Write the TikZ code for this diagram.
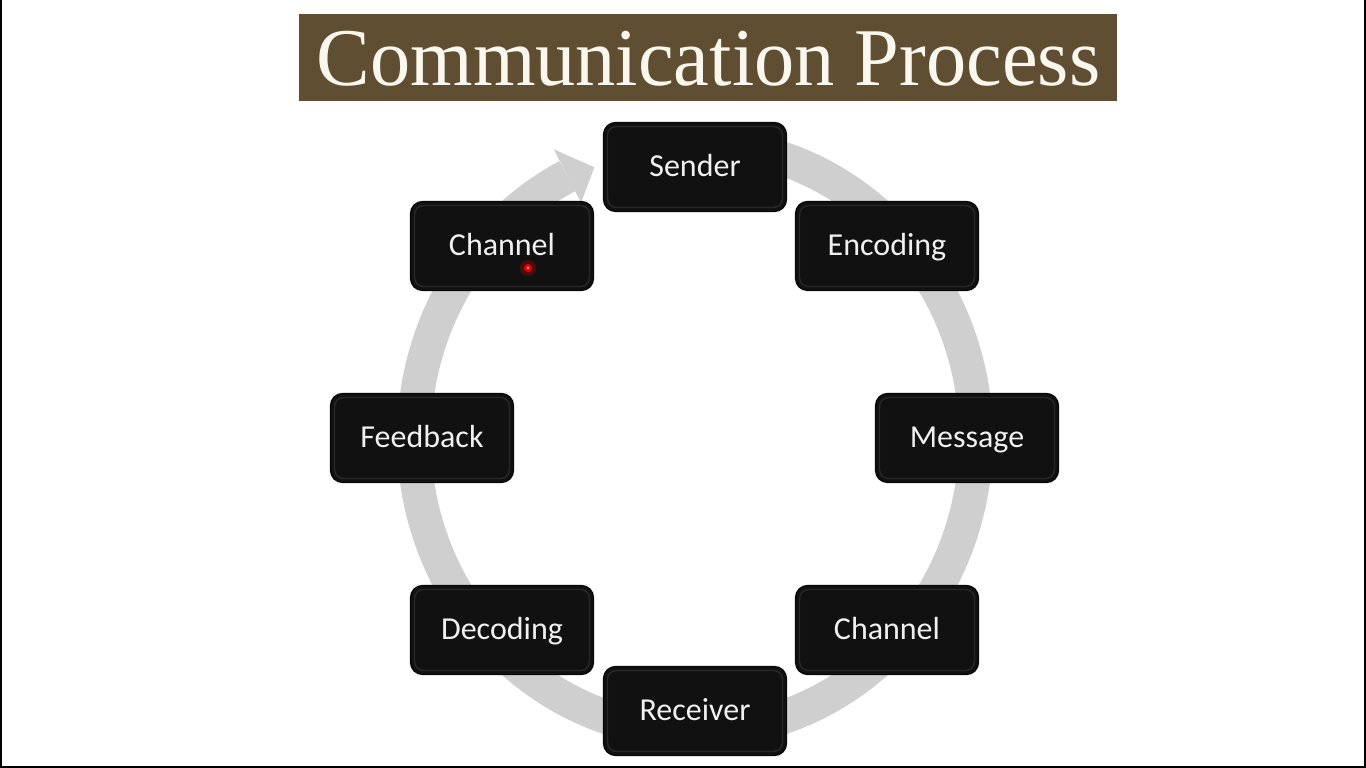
\documentclass[tikz,border=0pt]{standalone}
\usepackage{fontspec}
\usepackage{graphicx}
\usetikzlibrary{calc}
\setmainfont{Carlito}
\newfontfamily\titlefont{Liberation Serif}

\definecolor{titlebrown}{RGB}{96,78,50}
\definecolor{titleink}{RGB}{250,247,238}
\definecolor{boxfill}{RGB}{17,17,17}
\definecolor{boxedge}{RGB}{8,8,8}
\definecolor{boxsheen}{RGB}{95,95,95}
\definecolor{boxtext}{RGB}{240,240,240}
\definecolor{ringgray}{RGB}{207,207,207}

\begin{document}
\begin{tikzpicture}[x=1pt,y=1pt,
  stepbox/.style={rectangle, rounded corners=12pt,
    minimum width=183pt, minimum height=89pt, inner sep=0pt,
    fill=boxfill, draw=boxedge, line width=1.2pt,
    text=boxtext, font=\fontsize{32}{38}\selectfont,
    text height=25pt, text depth=6pt,
    path picture={
      \draw[boxsheen, opacity=0.3, line width=1.4pt, rounded corners=9pt]
        ([shift={(4pt,4pt)}]path picture bounding box.south west) rectangle
        ([shift={(-4pt,-4pt)}]path picture bounding box.north east);}},
  ringband/.style={draw=ringgray, line width=34pt},
  ringhead/.style={fill=ringgray},
]
% page frame
\useasboundingbox (0,0) rectangle (1366,768);
\fill[white] (0,0) rectangle (1366,768);
\fill[black] (0,0) rectangle (1.5,768);
\fill[black] (1364,0) rectangle (1366,768);
\fill[black] (0,0) rectangle (1366,2);

% title banner
\fill[titlebrown] (299,667) rectangle (1117,754);
\node[anchor=base, text=titleink, inner sep=0pt] (title) at (708.5,682)
  {\scalebox{0.98}[1]{\titlefont\fontsize{82}{90}\selectfont Communication Process}};

% circular arrow behind the boxes
\coordinate (hub) at (695,330);
\draw[ringband] (hub) ++(80:281 and 294)
  arc[start angle=80, end angle=-243, x radius=281, y radius=294];
\fill[ringhead] ($(hub)+(117:311 and 324)$) coordinate (barbout)
  -- ($(hub)+(111:281 and 290)$) coordinate (tip)
  -- ($(hub)+(117:251 and 264)$) coordinate (barbin) -- cycle;

% the eight stages
\node[stepbox] (sender)   at (695,601) {Sender};
\node[stepbox] (encoding) at (887,522) {Encoding};
\node[stepbox] (message)  at (967,330) {Message};
\node[stepbox] (channelA) at (887,138) {Channel};
\node[stepbox] (receiver) at (695,57)  {Receiver};
\node[stepbox] (decoding) at (502,138) {Decoding};
\node[stepbox] (feedback) at (422,330) {Feedback};
\node[stepbox] (channelB) at (502,522) {Channel};

% pointer spot
\fill[red, opacity=0.25] (528,500) circle (8);
\fill[red!90!black] (528,500) circle (4);
\fill[red!40!white] (528,500) circle (1.5);
\end{tikzpicture}
\end{document}
